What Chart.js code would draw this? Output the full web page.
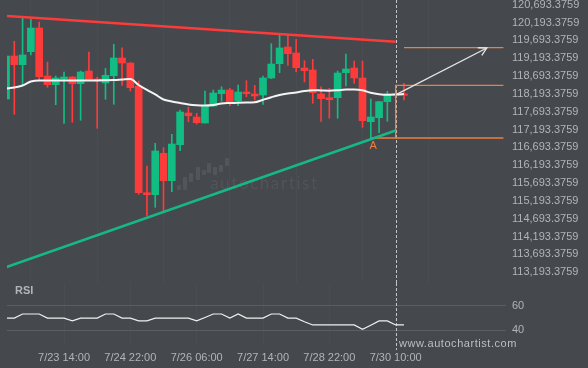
<!DOCTYPE html>
<html>
<head>
<meta charset="utf-8">
<script src="https://cdn.jsdelivr.net/npm/chart.js@4.4.1/dist/chart.umd.min.js"></script>
<style>
html, body { margin: 0; padding: 0; background: #45484d; }
#wrap { position: relative; width: 588px; height: 368px; overflow: hidden; background: #45484d; font-family: "Liberation Sans", Arial, sans-serif; }
#main { position: absolute; left: 0; top: 0; }
#rsi { position: absolute; left: 0; top: 283px; }
.txt { position: absolute; color: #b1b4b8; font-size: 11px; white-space: nowrap; }
.wm { position: absolute; background: rgba(255,255,255,0.075); border-radius: 1px; }
#wmtext { position: absolute; left: 210px; top: 174px; font-family: Lato, sans-serif; font-size: 17px; line-height: 17px; letter-spacing: 1.6px; color: rgba(255,255,255,0.08); }
</style>
</head>
<body>
<div id="wrap">
  <!-- watermark logo -->
  <div class="wm" style="left:177px;top:185px;width:4px;height:5px"></div>
  <div class="wm" style="left:183px;top:177px;width:4px;height:13px"></div>
  <div class="wm" style="left:189px;top:173px;width:4px;height:9px"></div>
  <div class="wm" style="left:196px;top:167px;width:4px;height:13px"></div>
  <div class="wm" style="left:202px;top:170px;width:4px;height:5px"></div>
  <div class="wm" style="left:207px;top:163px;width:4px;height:10px"></div>
  <div class="wm" style="left:213px;top:167px;width:4px;height:8px"></div>
  <div class="wm" style="left:219px;top:165px;width:4px;height:7px"></div>
  <div class="wm" style="left:225px;top:158px;width:4px;height:8px"></div>
  <div id="wmtext">autochartist</div>
  <canvas id="main" width="588" height="283"></canvas>
  <canvas id="rsi" width="588" height="85"></canvas>
  <div class="txt" style="left:15px;top:284px;font-weight:bold">RSI</div>
  <div class="txt" style="left:399px;top:337px;letter-spacing:0.55px;color:#bcbfc2">www.autochartist.com</div>
</div>
<script>
// 4h candles, oldest first
const candleOpen  = [118050,119256,119012,119376,120040,118695,118451,118611,118667,118479,118835,118611,118499,118703,119200,119059,118415,115424,115368,116529,115761,116770,117658,117546,117378,117854,118199,118303,117994,118247,118191,118163,118639,119040,119508,119340,118919,118863,118191,118087,118087,118788,118919,118639,117414,117526,117975,118182,118171];
const candleHigh  = [119290,119668,120312,120293,120209,119087,118695,118807,118680,118835,119368,118667,118911,119584,119488,119070,118555,116173,116809,116686,117061,117742,117818,117650,118275,118303,118395,118350,118443,118563,118434,118695,119600,119844,119844,119724,119124,119163,118395,118350,118835,119312,119116,119116,118050,117985,118266,118219,118490];
const candleLow   = [118022,117622,118443,119284,118583,118378,117891,117369,117397,117454,118575,117229,118042,117902,118434,118275,115380,114771,115015,114911,115452,116601,117414,117350,117370,117835,117986,117863,117863,118115,118022,117902,118619,118788,118995,118807,118527,117930,117425,117510,117510,118415,118490,117257,116957,117106,117425,118135,118022];
const candleClose = [119256,119012,119284,120040,118675,118451,118639,118667,118479,118807,118583,118555,118715,119200,119059,118367,115424,115368,116593,115761,116789,117686,117582,117386,117854,118219,118303,117975,118247,118199,118135,118639,119031,119480,119320,118928,118844,118227,118059,118031,118779,118891,118639,117442,117546,117975,118191,118154,118154];
const maValues    = [118345,118373,118429,118540,118569,118569,118569,118569,118569,118569,118569,118569,118575,118583,118597,118611,118443,118303,118177,118036,117980,117938,117896,117874,117868,117882,117924,117938,117947,117952,117958,118031,118101,118163,118204,118233,118275,118297,118289,118283,118297,118317,118317,118294,118224,118185,118168,118177,118191];
const rsiValues   = [50,50,53.4,53.4,53.4,50,50,50,47.7,50,50,50,53.4,53.4,50,50,47.7,47.7,50,50,50,50,50,47.7,50.5,53.4,53.4,50,53.4,50,50,50,53.4,53.4,50,50,47,44.4,44.4,44.4,44.4,44.4,44.4,40.8,44.2,47.7,47.7,44.4,44.4];

const resistance = [[0, 120380], [47, 119656]];
const support    = [[0, 113336], [47, 117168]];
const targetLevel = 119488;
const entryLevel  = 118434;
const levelA      = 116957;
const forecast    = [[47.1, 118182], [58, 119480]];

const xLabels   = ['7/23 14:00', '7/24 22:00', '7/26 06:00', '7/27 14:00', '7/28 22:00', '7/30 10:00'];
const xLabelIdx = [7, 15, 23, 31, 39, 47];
const yTicks = [120693.3759,120193.3759,119693.3759,119193.3759,118693.3759,118193.3759,117693.3759,117193.3759,116693.3759,116193.3759,115693.3759,115193.3759,114693.3759,114193.3759,113693.3759,113193.3759];
const rsiTicks = [40, 60];

const lastIdx = 47;
const xMin = 0.12, xMax = 60.31;
const UP = '#12bd84', DOWN = '#fd3b3b', ORANGE = '#ef7f3e';
const tickColor = '#b1b4b8';
const tickFont = { family: 'Liberation Sans', size: 11 };

const up = candleClose.map((c, i) => c >= candleOpen[i]);
const colors = up.map(u => u ? UP : DOWN);

const dashPlugin = {
  id: 'dash',
  beforeDatasetsDraw(chart, args, opts) {
    const x = Math.round(chart.scales.x.getPixelForValue(lastIdx)) + 0.5;
    const c = chart.ctx;
    c.save();
    c.strokeStyle = '#c2c4c6';
    c.lineWidth = 1;
    c.setLineDash([3, 2]);
    c.beginPath();
    c.moveTo(x, 0);
    c.lineTo(x, opts.bottom);
    c.stroke();
    c.restore();
  }
};

const markPlugin = {
  id: 'marks',
  afterDatasetsDraw(chart) {
    const xs = chart.scales.x, ys = chart.scales.y, c = chart.ctx;
    // arrow head
    const x0 = xs.getPixelForValue(forecast[0][0]), y0 = ys.getPixelForValue(forecast[0][1]);
    const x1 = xs.getPixelForValue(forecast[1][0]), y1 = ys.getPixelForValue(forecast[1][1]);
    const a = Math.atan2(y1 - y0, x1 - x0);
    c.save();
    c.strokeStyle = '#e6e6e6';
    c.lineWidth = 1.3;
    c.beginPath();
    c.moveTo(x1 - 9 * Math.cos(a - 0.5), y1 - 9 * Math.sin(a - 0.5));
    c.lineTo(x1, y1);
    c.lineTo(x1 - 9 * Math.cos(a + 0.5), y1 - 9 * Math.sin(a + 0.5));
    c.stroke();
    // point A label
    c.fillStyle = ORANGE;
    c.font = '11px "Liberation Sans"';
    c.textAlign = 'center';
    c.textBaseline = 'middle';
    c.fillText('A', xs.getPixelForValue(44.3), ys.getPixelForValue(levelA) + 8);
    c.restore();
  }
};

function pts(arr) { return arr.map(p => ({ x: p[0], y: p[1] })); }

new Chart(document.getElementById('main'), {
  type: 'bar',
  data: {
    datasets: [
      { type: 'line', data: pts(resistance), borderColor: DOWN, borderWidth: 2.6, pointRadius: 0, clip: 0, order: 0 },
      { type: 'line', data: pts(support), borderColor: '#16b885', borderWidth: 2.6, pointRadius: 0, clip: 0, order: 0 },
      { type: 'line', data: pts(forecast), borderColor: '#e6e6e6', borderWidth: 1.3, pointRadius: 0, clip: 0, order: 0 },
      { type: 'line', data: [{ x: 48, y: targetLevel }, { x: 60, y: targetLevel }], borderColor: ORANGE, borderWidth: 1.3, pointRadius: 0, clip: 0, order: 0 },
      { type: 'line', data: [{ x: 60, y: entryLevel }, { x: lastIdx, y: entryLevel }, { x: lastIdx, y: levelA }], borderColor: ORANGE, borderWidth: 1.3, pointRadius: 0, clip: 0, order: 0 },
      { type: 'line', data: [{ x: 44, y: levelA }, { x: 60, y: levelA }], borderColor: ORANGE, borderWidth: 1.3, pointRadius: 0, clip: 0, order: 0 },
      { type: 'line', data: maValues.map((v, i) => ({ x: i, y: v })), borderColor: '#f4f4f4', borderWidth: 2, pointRadius: 0, cubicInterpolationMode: 'monotone', clip: 0, order: 1 },
      { data: candleOpen.map((o, i) => ({ x: i, y: [o, candleClose[i]] })), backgroundColor: colors, barThickness: 7, minBarLength: 1.5, grouped: false, clip: 0, order: 2 },
      { data: candleLow.map((l, i) => ({ x: i, y: [l, candleHigh[i]] })), backgroundColor: colors, barThickness: 1, grouped: false, clip: 0, order: 3 }
    ]
  },
  options: {
    responsive: false,
    animation: false,
    devicePixelRatio: 1,
    layout: { padding: { left: 7, right: 0, top: 0, bottom: 0 } },
    plugins: { legend: { display: false }, tooltip: { enabled: false }, dash: { bottom: 283 } },
    scales: {
      x: {
        type: 'linear', min: xMin, max: xMax, offset: false,
        afterBuildTicks: s => { s.ticks = xLabelIdx.map(v => ({ value: v })); },
        afterFit: s => { s.height = 0; s.paddingLeft = 0; s.paddingRight = 0; },
        grid: { color: 'rgba(255,255,255,0.025)', drawTicks: false },
        border: { display: false },
        ticks: { display: false }
      },
      y: {
        position: 'right', min: 112893.5, max: 120825.1,
        afterBuildTicks: s => { s.ticks = yTicks.map(v => ({ value: v })); },
        afterFit: s => { s.width = 82; s.paddingTop = 0; s.paddingBottom = 0; },
        grid: { display: false, drawTicks: false },
        border: { display: false },
        ticks: {
          color: tickColor, font: tickFont, padding: 6, autoSkip: false,
          callback: v => v.toLocaleString('en-US', { minimumFractionDigits: 4, maximumFractionDigits: 4 })
        }
      }
    }
  },
  plugins: [dashPlugin, markPlugin]
});

new Chart(document.getElementById('rsi'), {
  type: 'line',
  data: {
    datasets: [
      { data: rsiValues.map((v, i) => ({ x: i, y: v })), borderColor: '#f0f0f0', borderWidth: 1.2, pointRadius: 0, tension: 0, clip: 0 }
    ]
  },
  options: {
    responsive: false,
    animation: false,
    devicePixelRatio: 1,
    layout: { padding: { left: 7, right: 0, top: 0, bottom: 0 } },
    plugins: { legend: { display: false }, tooltip: { enabled: false }, dash: { bottom: 67 } },
    scales: {
      x: {
        type: 'linear', min: xMin, max: xMax,
        afterBuildTicks: s => { s.ticks = xLabelIdx.map(v => ({ value: v })); },
        afterFit: s => { s.height = 23; s.paddingLeft = 0; s.paddingRight = 0; },
        grid: { color: 'rgba(255,255,255,0.025)', drawTicks: false },
        border: { display: false },
        ticks: { color: tickColor, font: tickFont, padding: 6, maxRotation: 0, autoSkip: false, callback: (v, i) => xLabels[i] }
      },
      y: {
        position: 'right', min: 27.9, max: 78.9,
        afterBuildTicks: s => { s.ticks = rsiTicks.map(v => ({ value: v })); },
        afterFit: s => { s.width = 82; s.paddingTop = 0; s.paddingBottom = 0; },
        grid: { color: '#5b5f63', drawTicks: false },
        border: { display: false },
        ticks: { color: tickColor, font: tickFont, padding: 6, autoSkip: false }
      }
    }
  },
  plugins: [dashPlugin]
});
</script>
</body>
</html>
